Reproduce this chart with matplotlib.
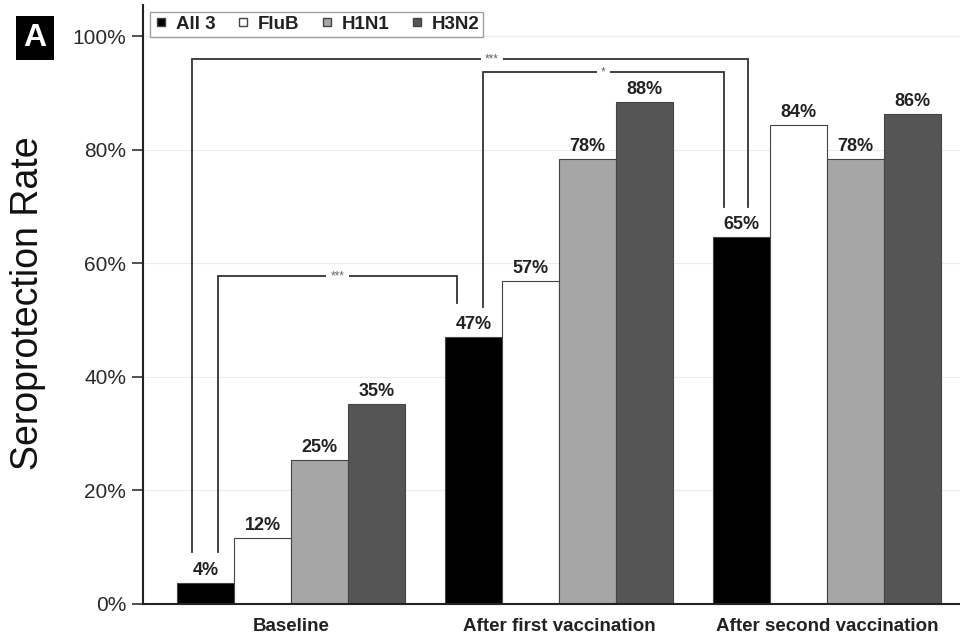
import matplotlib
matplotlib.use("Agg")
import matplotlib.pyplot as plt
from matplotlib.lines import Line2D

plt.rcParams['font.family'] = ['Liberation Sans', 'DejaVu Sans']

categories = ['Baseline', 'After first vaccination', 'After second vaccination']
series = ['All 3', 'FluB', 'H1N1', 'H3N2']
all3 = [3.7, 47.0, 64.6]
flub = [11.6, 56.9, 84.3]
h1n1 = [25.3, 78.4, 78.4]
h3n2 = [35.2, 88.4, 86.3]
data = [all3, flub, h1n1, h3n2]
colors = ['#000000', '#ffffff', '#a6a6a6', '#555555']
yticks = [0, 20, 40, 60, 80, 100]
ytick_labels = ['0%', '20%', '40%', '60%', '80%', '100%']

fig = plt.figure(figsize=(9.6, 6.38), dpi=100)
ax = fig.add_axes([0.149, 0.0533, 0.851, 0.9387])

w = 0.212
xs = list(range(len(categories)))

def xc(g, s):
    return xs[g] + (s - 1.5) * w

for s, (vals, c) in enumerate(zip(data, colors)):
    pos = [xc(g, s) for g in xs]
    ax.bar(pos, vals, width=w, color=c, edgecolor='#444444', linewidth=0.8, zorder=2)
    for x, v in zip(pos, vals):
        ax.annotate(f'{round(v)}%', (x, v), xytext=(0, 3), textcoords='offset points',
                    ha='center', va='bottom', fontsize=13, fontweight='bold', color='#222222')

def bracket(x1, x2, y, yb1, yb2, label, lx=None):
    ax.plot([x1, x1, x2, x2], [yb1, y, y, yb2], color='#333333', lw=1.3,
            solid_joinstyle='miter', zorder=3)
    if lx is None:
        lx = (x1 + x2) / 2
    ax.text(lx, y, label, ha='center', va='center', fontsize=8.5, color='#666666', zorder=4,
            bbox=dict(boxstyle='square,pad=0.35', fc='white', ec='none'))

bracket(xc(0, 0) + 0.046, xc(1, 0) - 0.063, 57.7, 9.2, 53.0, '***')
bracket(xc(1, 0) + 0.034, xc(2, 0) - 0.066, 93.7, 52.3, 70.0, '*')
x1o, x2o = xc(0, 0) - 0.051, xc(2, 0) + 0.023
bracket(x1o, x2o, 96.0, 9.2, 70.0, '***', lx=(x1o + x2o) / 2 + 0.082)

ax.set_xlim(-0.552, 2.496)
ax.set_ylim(0, 105.5)
ax.set_yticks(yticks)
ax.set_yticklabels(ytick_labels)
ax.set_xticks(xs)
ax.set_xticklabels(categories, fontsize=13.5, fontweight='bold', color='#222222')
ax.tick_params(axis='x', length=0, pad=10)
ax.tick_params(axis='y', length=8, width=1.2, color='#333333', labelsize=15,
               labelcolor='#2a2a2a', pad=4)
for sp in ['top', 'right']:
    ax.spines[sp].set_visible(False)
for sp in ['left', 'bottom']:
    ax.spines[sp].set_color('#222222')
    ax.spines[sp].set_linewidth(1.5)
ax.yaxis.grid(True, color='#ececec', lw=0.8)
ax.set_axisbelow(True)

fig.text(0.029, 0.525, 'Seroprotection Rate', rotation=90, fontsize=27,
         ha='center', va='center', color='#111111')

handles = [Line2D([], [], marker='s', ls='', markerfacecolor=c, markeredgecolor='#444444',
                  markersize=5.5) for c in colors]
fig.legend(handles, series, loc='upper left', bbox_to_anchor=(150 / 960, 1 - 12 / 638),
           ncol=4, frameon=True, fancybox=False, edgecolor='#888888',
           prop={'size': 13.5, 'weight': 'bold'}, handlelength=0.8, handletextpad=0.4,
           columnspacing=1.05, borderpad=0.2, borderaxespad=0, labelcolor='#222222')

fig.text(35 / 960, 1 - 38 / 638, 'A', color='white', fontsize=23, fontweight='bold',
         ha='center', va='center',
         bbox=dict(boxstyle='square,pad=0.22', fc='black', ec='none'))

fig.savefig('out.png', dpi=100)
